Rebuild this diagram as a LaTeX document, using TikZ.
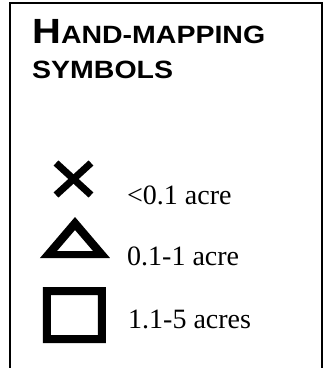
\documentclass[tikz,border=0pt]{standalone}
\usepackage{fontspec}
\setmainfont{Liberation Serif}
\setsansfont{Liberation Sans}
\usetikzlibrary{positioning}

\begin{document}
\begin{tikzpicture}[
  x=1pt, y=-1pt,
  frame/.style={line width=2pt},
  heading/.style={anchor=base west, inner sep=0pt, font=\sffamily\bfseries},
  sizelabel/.style={anchor=base west, inner sep=0pt,
                    font=\fontsize{28}{30}\selectfont},
  symbolink/.style={line width=7pt}
]
\useasboundingbox (0,0) rectangle (326,368);

% open frame, no bottom edge
\draw[frame] (10,368) -- (10,3) -- (322,3) -- (322,368);

\node[heading] (title1) at (32,43)
  {\scalebox{1.14}[1]{\fontsize{35}{35}\selectfont H\fontsize{25}{25}\selectfont AND-MAPPING}};
\node[heading] (title2) at (32,78)
  {\scalebox{1.14}[1]{\fontsize{25}{25}\selectfont SYMBOLS}};

% symbols
\draw[symbolink] (56,163) -- (91,195);
\draw[symbolink] (56,195) -- (91,163);
\fill[even odd rule] (75,217) -- (110,258) -- (40,258) -- cycle
                     (75,230) -- (93,251) -- (57,251) -- cycle;
\fill[even odd rule] (43,287) rectangle (106,343)
                     (51,295) rectangle (98,335);

\node[sizelabel] (lblcross) at (127,204) {<0.1 acre};
\node[sizelabel] (lbltri)   at (127,265) {0.1-1 acre};
\node[sizelabel] (lblsq)    at (128,328) {1.1-5 acres};
\end{tikzpicture}
\end{document}
